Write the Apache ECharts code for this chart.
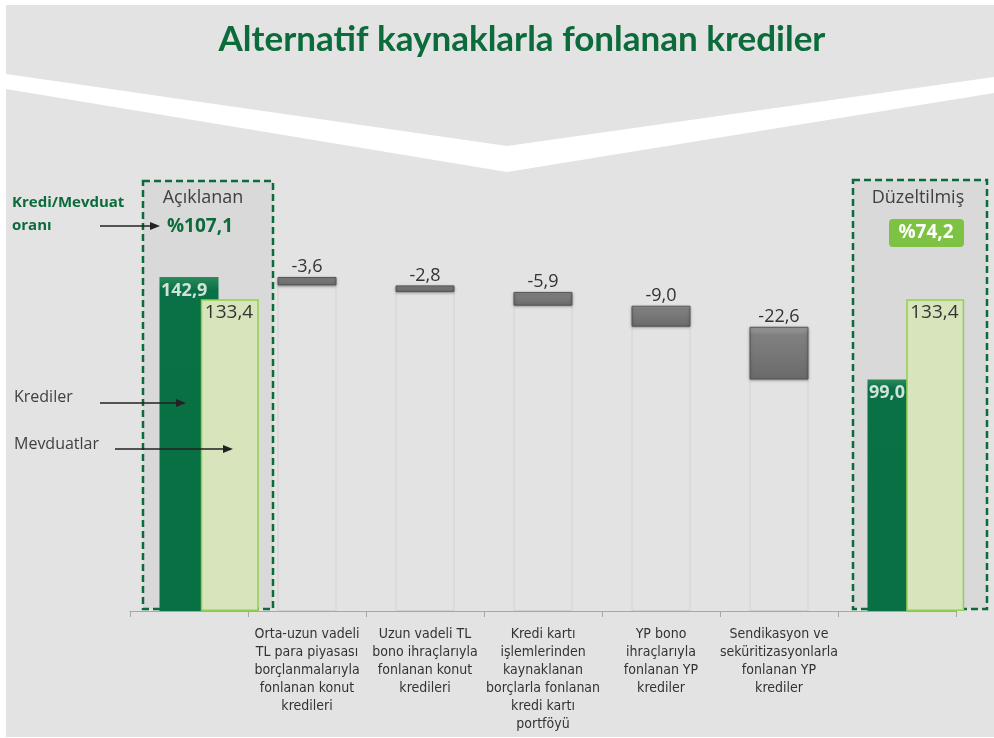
<!DOCTYPE html>
<html>
<head>
<meta charset="utf-8">
<script src="https://cdn.jsdelivr.net/npm/echarts@6/dist/echarts.min.js"></script>
<style>
html, body { margin: 0; padding: 0; background: #fff; }
#main { width: 994px; height: 738px; }
</style>
</head>
<body>
<div id="main"></div>
<script>
// veriler
var categories = [
    '',
    'Orta-uzun vadeli\nTL para piyasası\nborçlanmalarıyla\nfonlanan konut\nkredileri',
    'Uzun vadeli TL\nbono ihraçlarıyla\nfonlanan konut\nkredileri',
    'Kredi kartı\nişlemlerinden\nkaynaklanan\nborçlarla fonlanan\nkredi kartı\nportföyü',
    'YP bono\nihraçlarıyla\nfonlanan YP\nkrediler',
    'Sendikasyon ve\nseküritizasyonlarla\nfonlanan YP\nkrediler',
    ''
];
var krediler = [142.9, '-', '-', '-', '-', '-', 99.0];
var mevduatlar = [133.4, '-', '-', '-', '-', '-', 133.4];
var degisim = [-3.6, -2.8, -5.9, -9.0, -22.6];
var oranlar = ['%107,1', '%74,2'];

// waterfall: görünmez taban + gri düşüş
var taban = ['-'], dusus = ['-'];
var toplam = krediler[0];
degisim.forEach(function (d) {
    toplam = +(toplam + d).toFixed(1);
    taban.push(toplam);
    dusus.push(-d);
});
taban.push('-');
dusus.push('-');

function virgul(v) { return v.toFixed(1).replace('.', ','); }

var green = '#0b6b3a';
var txt = '#333333';
var narrow = "'Liberation Sans Narrow', 'DejaVu Sans Condensed', sans-serif";
var sans = "'Open Sans', 'Noto Sans', sans-serif";

function arrow(x1, x2, y) {
    return [
        { type: 'line', z: 100, shape: { x1: x1, y1: y, x2: x2 - 6, y2: y }, style: { stroke: '#222', lineWidth: 1.3 } },
        { type: 'polygon', z: 100, shape: { points: [[x2, y], [x2 - 10, y - 4], [x2 - 10, y + 4]] }, style: { fill: '#222' } }
    ];
}

var myChart = echarts.init(document.getElementById('main'));
myChart.setOption({
    backgroundColor: '#ffffff',
    animation: false,
    grid: [
        { left: 130, right: 38, top: 237, bottom: 127 },
        { left: 171, width: 826, top: 237, bottom: 127 }
    ],
    xAxis: [
        {
            type: 'category',
            gridIndex: 0,
            data: categories,
            axisLine: { lineStyle: { color: '#a6a6a6' } },
            axisTick: { show: true, length: 6, lineStyle: { color: '#a6a6a6' } },
            axisLabel: {
                interval: 0,
                margin: 14,
                color: txt,
                fontSize: 14,
                lineHeight: 18,
                fontFamily: narrow
            }
        },
        {
            type: 'category',
            gridIndex: 1,
            data: categories,
            show: false
        }
    ],
    yAxis: [
        { type: 'value', gridIndex: 0, min: 0, max: 160, show: false, splitLine: { show: false } },
        { type: 'value', gridIndex: 1, min: 0, max: 160, show: false, splitLine: { show: false } }
    ],
    series: [
        {
            name: 'taban',
            type: 'bar',
            stack: 'w',
            barWidth: 59,
            data: taban,
            itemStyle: { color: 'rgba(0,0,0,0)', borderColor: '#d2d2d2', borderWidth: 1 },
            z: 2
        },
        {
            name: 'düşüş',
            type: 'bar',
            stack: 'w',
            barWidth: 59,
            data: dusus,
            itemStyle: {
                color: new echarts.graphic.LinearGradient(0, 0, 0, 1, [
                    { offset: 0, color: '#a3a3a3' },
                    { offset: 0.15, color: '#808080' },
                    { offset: 1, color: '#6a6a6a' }
                ]),
                borderColor: '#555555',
                borderWidth: 1,
                shadowColor: 'rgba(0,0,0,0.3)',
                shadowBlur: 3,
                shadowOffsetY: 1
            },
            label: {
                show: true,
                position: 'top',
                distance: 1,
                color: txt,
                fontSize: 18,
                fontFamily: sans,
                formatter: function (p) { return virgul(degisim[p.dataIndex - 1]); }
            },
            z: 3
        },
        {
            name: 'Krediler',
            type: 'bar',
            stack: 'w',
            barWidth: 59,
            data: krediler,
            itemStyle: {
                color: new echarts.graphic.LinearGradient(0, 0, 0, 1, [
                    { offset: 0, color: '#2a8a5a' },
                    { offset: 0.04, color: '#0a7045' },
                    { offset: 1, color: '#087044' }
                ])
            },
            z: 3
        },
        {
            name: 'Mevduatlar',
            type: 'bar',
            xAxisIndex: 1,
            yAxisIndex: 1,
            barWidth: 58,
            data: mevduatlar,
            itemStyle: { color: '#d8e4bc', borderColor: '#92d050', borderWidth: 1.5 },
            label: {
                show: true,
                position: 'insideTopLeft',
                distance: 4,
                color: txt,
                fontSize: 19,
                fontFamily: sans,
                formatter: function (p) { return virgul(p.value); }
            },
            z: 4
        },
        {
            // kredi etiketleri açık yeşil çubuğun üstünde kalsın
            name: 'Kredi etiket',
            type: 'scatter',
            data: krediler,
            symbolSize: 1,
            itemStyle: { color: 'rgba(0,0,0,0)' },
            label: {
                show: true,
                position: 'bottom',
                distance: 4,
                align: 'left',
                offset: [-28, 0],
                color: '#ffffff',
                fontWeight: 'bold',
                fontSize: 18,
                fontFamily: sans,
                formatter: function (p) { return virgul(p.value[1] !== undefined ? p.value[1] : p.value); }
            },
            z: 10
        }
    ],
    graphic: [
        { type: 'rect', z: -20, shape: { x: 6, y: 5, width: 988, height: 732 }, style: { fill: '#e3e3e3' } },
        { type: 'polygon', z: -19, shape: { points: [[6, 74], [507, 146], [994, 77], [994, 93], [507, 172], [6, 89]] }, style: { fill: '#ffffff' } },
        {
            type: 'text', z: 10, x: 522, y: 40,
            style: { text: 'Alternatif kaynaklarla fonlanan krediler', fill: green, font: 'bold 35px Lato, sans-serif', textAlign: 'center', textVerticalAlign: 'middle' }
        },
        { type: 'rect', z: -5, shape: { x: 143, y: 181, width: 130, height: 428 }, style: { fill: '#d9d9d9', stroke: green, lineWidth: 2.5, lineDash: [7, 4] } },
        { type: 'rect', z: -5, shape: { x: 853, y: 180, width: 134, height: 429 }, style: { fill: '#d9d9d9', stroke: green, lineWidth: 2.5, lineDash: [7, 4] } },
        { type: 'text', z: 10, x: 203, y: 198, style: { text: 'Açıklanan', fill: '#404040', font: '18px ' + sans, textAlign: 'center', textVerticalAlign: 'middle' } },
        { type: 'text', z: 10, x: 200, y: 227, style: { text: oranlar[0], fill: green, font: 'bold 19px ' + sans, textAlign: 'center', textVerticalAlign: 'middle' } },
        { type: 'text', z: 10, x: 918, y: 198, style: { text: 'Düzeltilmiş', fill: '#404040', font: '18px ' + sans, textAlign: 'center', textVerticalAlign: 'middle' } },
        { type: 'rect', z: 10, shape: { x: 889, y: 219, width: 75, height: 28, r: 4 }, style: { fill: '#7dc242' } },
        { type: 'text', z: 11, x: 926, y: 233, style: { text: oranlar[1], fill: '#ffffff', font: 'bold 19px ' + sans, textAlign: 'center', textVerticalAlign: 'middle' } },
        { type: 'text', z: 10, x: 12, y: 203, style: { text: 'Kredi/Mevduat', fill: green, font: 'bold 15px ' + sans, textVerticalAlign: 'middle' } },
        { type: 'text', z: 10, x: 12, y: 226, style: { text: 'oranı', fill: green, font: 'bold 15px ' + sans, textVerticalAlign: 'middle' } },
        { type: 'text', z: 10, x: 14, y: 397, style: { text: 'Krediler', fill: '#404040', font: '16px ' + sans, textVerticalAlign: 'middle' } },
        { type: 'text', z: 10, x: 14, y: 444, style: { text: 'Mevduatlar', fill: '#404040', font: '16px ' + sans, textVerticalAlign: 'middle' } }
    ].concat(arrow(100, 160, 226), arrow(100, 186, 403), arrow(115, 233, 449))
});
</script>
</body>
</html>
